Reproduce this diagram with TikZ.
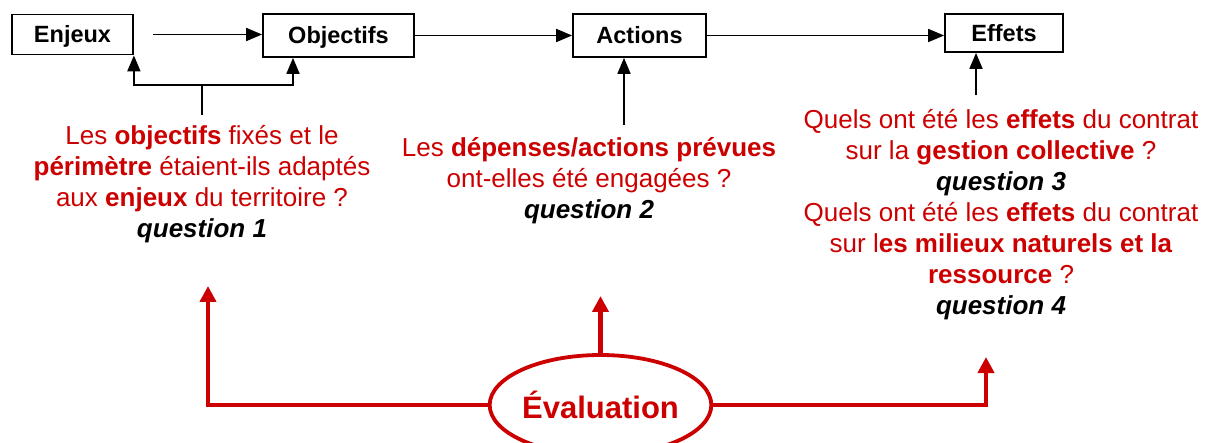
\documentclass[tikz,border=0pt]{standalone}
\usepackage{fontspec}
\setmainfont{Liberation Sans}
\usetikzlibrary{arrows.meta,shapes.geometric}
\definecolor{qred}{RGB}{204,0,0}
\begin{document}
\begin{tikzpicture}[x=1pt,y=-1pt,
 box/.style={draw,line width=1.8pt,inner sep=0pt,text height=17pt,text depth=0pt,font=\fontsize{23.5}{28}\selectfont\bfseries},
 arr/.style={line width=1.8pt,-{Triangle[length=16pt,width=13pt]}},
 ln/.style={line width=1.8pt},
 qtext/.style={align=center,text=qred,font=\fontsize{26}{31}\selectfont,inner sep=0pt},
 rarr/.style={draw=qred,line width=4.5pt,-{Triangle[length=16pt,width=16pt]}},
 evalnode/.style={ellipse,draw=qred,line width=3.8pt,text=qred,minimum width=217pt,minimum height=100pt,inner sep=0pt,font=\fontsize{31}{36}\selectfont\bfseries}]
\useasboundingbox[fill=white] (0,0) rectangle (1209,443);

% boxes
\node[box,minimum width=121pt,minimum height=40pt] (enjeux) at (72.5,34.5) {Enjeux};
\node[box,minimum width=151pt,minimum height=43pt] (objectifs) at (338.5,35.5) {Objectifs};
\node[box,minimum width=133pt,minimum height=43pt] (actions) at (639.5,35.5) {Actions};
\node[box,minimum width=118pt,minimum height=38pt] (effets) at (1004,33) {Effets};

% top arrows
\draw[arr] ([xshift=19pt]enjeux.east) -- (objectifs.west |- enjeux.east);
\draw[arr] (objectifs.east) -- (actions.west);
\draw[arr] (actions.east) -- (actions.east -| effets.west);

% bracket under Enjeux / Objectifs
\coordinate (b1) at (202,115);
\coordinate (b0) at (202,85);
\coordinate (bo) at (293,85);
\draw[ln] (b1) -- (b0);
\draw[arr] (b0) -| (enjeux.south east);
\draw[arr] (b0) -| (bo |- objectifs.south);

% Actions and Effets up arrows
\coordinate (a1) at (624,125);
\draw[arr] (a1) -- (a1 |- actions.south);
\coordinate (e1) at (976,95);
\draw[arr] (e1) -- (e1 |- effets.south);

% question texts
\node[qtext] (q1) at (202,184) {Les \textbf{objectifs} fixés et le\\
\textbf{périmètre} étaient-ils adaptés\\
aux \textbf{enjeux} du territoire ?\\
{\color{black}\bfseries\itshape question 1}};

\node[qtext] (q2) at (589,181) {Les \textbf{dépenses/actions prévues}\\
ont-elles été engagées ?\\
{\color{black}\bfseries\itshape question 2}};

\node[qtext] (q3) at (1001,215) {Quels ont été les \textbf{effets} du contrat\\
sur la \textbf{gestion collective} ?\\
{\color{black}\bfseries\itshape question 3}\\
Quels ont été les \textbf{effets} du contrat\\
sur l\textbf{es milieux naturels et la}\\
\textbf{ressource} ?\\
{\color{black}\bfseries\itshape question 4}};

% evaluation
\node[evalnode] (eval) at (600.5,405) {Évaluation};
\coordinate (r1) at (208,286);
\coordinate (r2) at (598,296);
\coordinate (r3) at (986,357);
\draw[rarr] (eval.west) -| (r1);
\draw[rarr] (eval.north) -- (eval.north |- r2);
\draw[rarr] (eval.east) -| (r3);
\end{tikzpicture}
\end{document}
